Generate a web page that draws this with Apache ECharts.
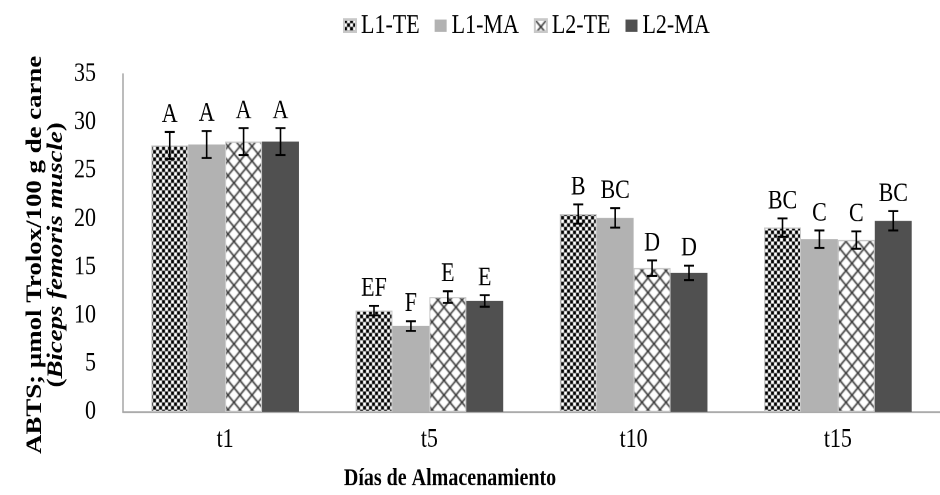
<!DOCTYPE html>
<html><head><meta charset="utf-8">
<script src="https://cdn.jsdelivr.net/npm/echarts@6/dist/echarts.min.js"></script>
<style>
html,body{margin:0;padding:0;background:#fff;overflow:hidden}
#wrap{width:940px;height:495px;overflow:hidden}
#c{width:940px;height:406px;transform:scaleY(1.2192);transform-origin:0 0}
</style>
</head><body><div id="wrap"><div id="c"></div></div>
<script>
const categories = ['t1', 't5', 't10', 't15'];
const seriesNames = ['L1-TE', 'L1-MA', 'L2-TE', 'L2-MA'];
const L1_TE = [27.6, 10.5, 20.5, 19.1];
const L1_MA = [27.7, 8.9, 20.1, 17.9];
const L2_TE = [28.0, 11.9, 14.9, 17.8];
const L2_MA = [28.0, 11.5, 14.4, 19.8];
const L1_TE_err = [1.4, 0.5, 1.0, 0.95];
const L1_MA_err = [1.4, 0.5, 1.0, 0.9];
const L2_TE_err = [1.4, 0.6, 0.8, 0.9];
const L2_MA_err = [1.4, 0.6, 0.75, 1.0];
const L1_TE_letters = ['A', 'EF', 'B', 'BC'];
const L1_MA_letters = ['A', 'F', 'BC', 'C'];
const L2_TE_letters = ['A', 'E', 'D', 'C'];
const L2_MA_letters = ['A', 'E', 'D', 'BC'];
const yTicks = { min: 0, max: 35, interval: 5 };

const values = [L1_TE, L1_MA, L2_TE, L2_MA];
const errs = [L1_TE_err, L1_MA_err, L2_TE_err, L2_MA_err];
const letters = [L1_TE_letters, L1_MA_letters, L2_TE_letters, L2_MA_letters];

function checker() {
  const c = document.createElement('canvas'); c.width = 6; c.height = 6;
  const g = c.getContext('2d');
  g.fillStyle = '#fff'; g.fillRect(0, 0, 6, 6);
  g.fillStyle = '#000'; g.fillRect(0, 0, 3, 3); g.fillRect(3, 3, 3, 3);
  return c;
}
function cross() {
  const c = document.createElement('canvas'); c.width = 12; c.height = 12;
  const g = c.getContext('2d');
  g.fillStyle = '#fff'; g.fillRect(0, 0, 12, 12);
  g.strokeStyle = '#333'; g.lineWidth = 1.4;
  g.beginPath(); g.moveTo(0, 0); g.lineTo(12, 12); g.moveTo(12, 0); g.lineTo(0, 12); g.stroke();
  return c;
}
const fills = [
  { image: checker(), repeat: 'repeat' },
  '#b2b2b2',
  { image: cross(), repeat: 'repeat' },
  '#505050'
];
const GAP = 0.277;
const FONT = 'Liberation Serif';

const series = [];
seriesNames.forEach((n, i) => {
  series.push({
    name: n, type: 'bar', data: values[i], barGap: '0%', barCategoryGap: (GAP * 100) + '%',
    itemStyle: { color: fills[i], borderColor: (i % 2 === 0) ? '#c8c8c8' : fills[i], borderWidth: (i % 2 === 0) ? 1 : 0 },
    emphasis: { disabled: true }
  });
});
seriesNames.forEach((n, i) => {
  series.push({
    name: n + '-err', type: 'custom', z: 10,
    data: categories.map((c, k) => [k, values[i][k], errs[i][k]]),
    renderItem: function (params, api) {
      const k = api.value(0), v = api.value(1), e = api.value(2);
      const band = api.size([1, 0])[0];
      const bw = band * (1 - GAP) / 4;
      const cx = api.coord([k, v])[0] + (i - 1.5) * bw;
      const top = api.coord([k, v + e])[1];
      const bot = api.coord([k, v - e])[1];
      const hw = 5;
      const st = { stroke: '#000', lineWidth: 1.6 };
      return {
        type: 'group', children: [
          { type: 'line', shape: { x1: cx, y1: top, x2: cx, y2: bot }, style: st },
          { type: 'line', shape: { x1: cx - hw, y1: top, x2: cx + hw, y2: top }, style: st },
          { type: 'line', shape: { x1: cx - hw, y1: bot, x2: cx + hw, y2: bot }, style: st },
          { type: 'text', style: { text: letters[i][k], x: cx, y: top - 3, align: 'center', verticalAlign: 'bottom', font: '22px "' + FONT + '"', fill: '#000' } }
        ]
      };
    }
  });
});

const chart = echarts.init(document.getElementById('c'), null, { renderer: 'canvas', devicePixelRatio: 2 });
chart.setOption({
  animation: false,
  backgroundColor: '#fff',
  textStyle: { fontFamily: FONT },
  legend: {
    data: seriesNames, left: 338, top: 5, itemWidth: 12, itemHeight: 10, itemGap: 15,
    icon: 'rect',
    textStyle: { fontFamily: FONT, fontSize: 22, color: '#000' }
  },
  grid: { left: 123, right: -13, top: 60.7, bottom: 68.1 },
  xAxis: {
    type: 'category', data: categories,
    axisLine: { lineStyle: { color: '#a6a6a6', width: 1.5 } },
    axisTick: { show: false },
    axisLabel: { fontFamily: FONT, fontSize: 22, color: '#000', margin: 12 }
  },
  yAxis: {
    type: 'value', min: yTicks.min, max: yTicks.max, interval: yTicks.interval,
    splitLine: { show: false },
    axisLine: { show: true, lineStyle: { color: '#a6a6a6', width: 1.5 } },
    axisTick: { show: false },
    axisLabel: { fontFamily: FONT, fontSize: 22, color: '#000', margin: 27 }
  },
  graphic: [{
    type: 'text', x: 46, y: 209, rotation: Math.PI / 2,
    style: {
      text: '{b|ABTS; µmol Trolox/100 g de carne}\n{b|(}{bi|Biceps femoris muscle}{b|)}',
      align: 'center', verticalAlign: 'middle',
      rich: {
        b: { fontFamily: FONT, fontWeight: 'bold', fontSize: 22, fill: '#000', lineHeight: 21 },
        bi: { fontFamily: FONT, fontWeight: 'bold', fontStyle: 'italic', fontSize: 22, fill: '#000', lineHeight: 21 }
      }
    }
  }, {
    type: 'text', x: 450, y: 393,
    style: { text: 'Días de Almacenamiento', font: 'bold 20px "' + FONT + '"', fill: '#000', align: 'center', verticalAlign: 'middle' }
  }],
  series: series
});
</script></body></html>
